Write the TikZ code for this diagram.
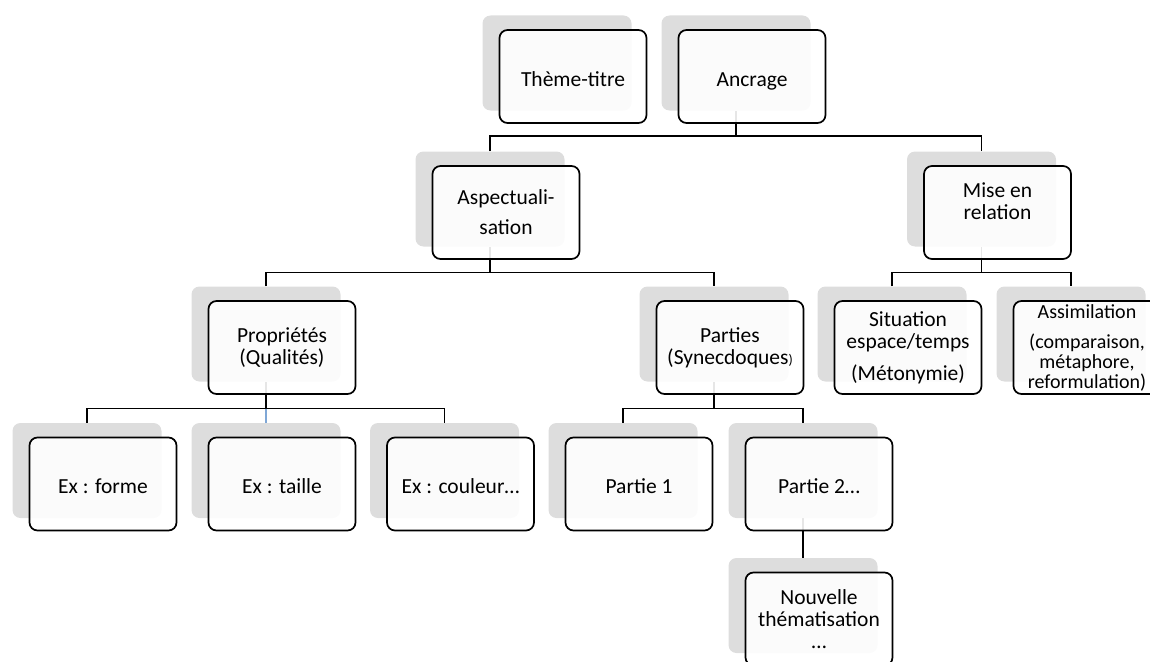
\documentclass[tikz,border=0pt]{standalone}
\usepackage{fontspec}
\setmainfont{Carlito}
\usetikzlibrary{positioning,backgrounds}
\definecolor{plategray}{HTML}{DDDDDD}
\definecolor{linkblue}{HTML}{7FA7D6}
\newcommand\cardfont{\fontsize{21.5}{22}\selectfont\setlength{\lineskiplimit}{-30pt}}
\newcommand\smallcardfont{\fontsize{20}{20}\selectfont\setlength{\lineskiplimit}{-30pt}}

\tikzset{
  plate/.style={fill=plategray, rounded corners=8pt, minimum width=149pt, minimum height=95pt, inner sep=0pt},
  card/.style={draw=black, line width=1.7pt, fill=white, fill opacity=0.9, text opacity=1,
    rounded corners=8pt, minimum width=147pt, minimum height=93pt, inner sep=0pt, align=center,
    font=\cardfont},
  oneline/.style={text height=19pt, text depth=0pt},
  link/.style={line width=1.7pt, draw=black},
}

\begin{document}
\begin{tikzpicture}[x=1pt, y=-1pt]
    \useasboundingbox (0,0) rectangle (1150,661);
    \clip (0,0) rectangle (1150,661);

    %% top row
    \node[plate] (theme) at (557,63) {};
    \node[card, oneline] (theme-c) at ([shift={(16,13.5)}]theme) {Thème-titre};
    \node[plate] (ancrage) at (736,63) {};
    \node[card, oneline] (ancrage-c) at ([shift={(16,13.5)}]ancrage) {Ancrage};

    %% second row
    \node[plate] (aspect) at (490,199) {};
    \node[card] (aspect-c) at ([shift={(16,13.5)}]aspect) {Aspectuali-\\[8pt]sation};
    \node[plate] (mise) at (981.5,199) {};
    \node[card, text depth=23pt] (mise-c) at ([shift={(16,13.5)}]mise) {Mise en\\relation};

    %% third row
    \node[plate] (prop) at (266,334) {};
    \node[card] (prop-c) at ([shift={(16,13.5)}]prop) {Propriétés\\(Qualités)};
    \node[plate] (parties) at (714,334) {};
    \node[card] (parties-c) at ([shift={(16,13.5)}]parties) {Parties\\(Synecdoques{\fontsize{14}{14}\selectfont)}};
    \node[plate] (situation) at (892,334) {};
    \node[card] (situation-c) at ([shift={(16,13.5)}]situation) {Situation\\espace/temps\\[10pt](Métonymie)};
    \node[plate] (assim) at (1071,334) {};
    \node[card, font=\smallcardfont] (assim-c) at ([shift={(16,13.5)}]assim)
        {Assimilation\\[10pt](comparaison,\\métaphore,\\reformulation)};

    %% fourth row
    \node[plate] (forme) at (87,470.5) {};
    \node[card, oneline] (forme-c) at ([shift={(16,13.5)}]forme) {Ex : forme};
    \node[plate] (taille) at (266,470.5) {};
    \node[card, oneline] (taille-c) at ([shift={(16,13.5)}]taille) {Ex : taille};
    \node[plate] (couleur) at (444.5,470.5) {};
    \node[card, oneline] (couleur-c) at ([shift={(16,13.5)}]couleur) {Ex : couleur…};
    \node[plate] (partie1) at (623,470.5) {};
    \node[card, oneline] (partie1-c) at ([shift={(16,13.5)}]partie1) {Partie 1};
    \node[plate] (partie2) at (803,470.5) {};
    \node[card, oneline] (partie2-c) at ([shift={(16,13.5)}]partie2) {Partie 2…};

    %% last row
    \node[plate] (nouvelle) at (803,605.5) {};
    \node[card] (nouvelle-c) at ([shift={(16,13.5)}]nouvelle) {Nouvelle\\thématisation\\…};

    %% connectors, behind the cards
    \coordinate (bus1) at (0,136);
    \coordinate (bus2) at (0,272.5);
    \coordinate (bus3) at (0,408.5);
    \begin{scope}[on background layer]
    \draw[link] (ancrage.south) -- (ancrage |- bus1);
    \draw[link] (aspect.north) -- (aspect |- bus1) -- (mise |- bus1) -- (mise.north);
    \draw[link] (aspect.south) -- (aspect |- bus2);
    \draw[link] (prop.north) -- (prop |- bus2) -- (parties |- bus2) -- (parties.north);
    \draw[link] (mise.south) -- (mise |- bus2);
    \draw[link] (situation.north) -- (situation |- bus2) -- (assim |- bus2) -- (assim.north);
    \draw[link] (prop.south) -- (prop |- bus3);
    \draw[link] (forme.north) -- (forme |- bus3) -- (couleur |- bus3) -- (couleur.north);
    \draw[link, draw=linkblue] (taille |- bus3) -- (taille.north);
    \draw[link] (parties.south) -- (parties |- bus3);
    \draw[link] (partie1.north) -- (partie1 |- bus3) -- (partie2 |- bus3) -- (partie2.north);
    \draw[link] (partie2.south) -- (nouvelle.north);
    \end{scope}
\end{tikzpicture}
\end{document}
